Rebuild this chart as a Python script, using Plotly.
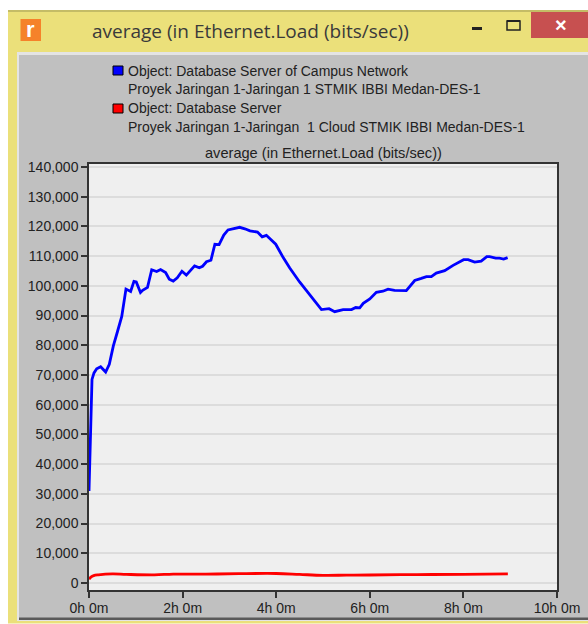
import plotly.graph_objects as go

W, H = 588, 624
L, R, T, B = 89, 557, 164, 590

hours_blue = [0.0, 0.03, 0.064, 0.107, 0.164, 0.249, 0.356, 0.434, 0.52, 0.612, 0.70, 0.79, 0.89, 0.96, 1.01, 1.10, 1.146,
              1.25, 1.34, 1.445, 1.53, 1.637, 1.715, 1.80, 1.886, 1.986, 2.08, 2.256, 2.356, 2.427, 2.51, 2.605,
              2.69, 2.78, 2.88, 2.97, 3.08, 3.22, 3.33, 3.44, 3.60, 3.70, 3.79, 3.99, 4.15, 4.29, 4.50, 4.72,
              4.967, 5.13, 5.25, 5.43, 5.61, 5.70, 5.785, 5.86, 6.0, 6.14, 6.28, 6.39, 6.53, 6.78, 6.96, 7.10,
              7.21, 7.315, 7.42, 7.60, 7.78, 8.005, 8.10, 8.24, 8.38, 8.50, 8.56, 8.69, 8.77, 8.86, 8.945]
load_blue = [31000, 50000, 68500, 70700, 72100, 72800, 71000, 73600, 79800, 84800, 89700, 98900, 98100, 101500, 101300, 97750, 98500,
             99500, 105400, 104800, 105500, 104500, 102250, 101600, 102700, 104900, 103600, 106700, 106100, 106600, 108100, 108600,
             114000, 113900, 117100, 118800, 119300, 119700, 119200, 118500, 118100, 116500, 117000, 114000, 109500, 106000, 101300, 97000,
             92000, 92300, 91300, 92000, 92000, 92700, 92600, 94100, 95600, 97800, 98200, 98900, 98500, 98400, 101800, 102500,
             103100, 103100, 104300, 105100, 106900, 108800, 108800, 108000, 108300, 109800, 109800, 109300, 109300, 109000, 109500]

hours_red = [0.0, 0.04, 0.1, 0.2, 0.5, 0.8, 1.4, 1.8, 2.5, 3.2, 4.0, 4.5, 5.0, 5.5, 6.0, 7.0, 8.0, 8.95]
load_red = [1300, 2000, 2500, 2750, 3050, 2900, 2750, 3000, 3000, 3150, 3200, 2900, 2600, 2650, 2700, 2850, 2900, 3050]

y_ticks = list(range(0, 140001, 10000))
y_labels = [f"{v:,}" for v in y_ticks]
x_ticks = [0, 2, 4, 6, 8, 10]
x_labels = ["0h 0m", "2h 0m", "4h 0m", "6h 0m", "8h 0m", "10h 0m"]
chart_title = "average (in Ethernet.Load (bits/sec))"
legend_lines = ["Object: Database Server of Campus Network",
                "Proyek Jaringan 1-Jaringan 1 STMIK IBBI Medan-DES-1",
                "Object: Database Server",
                "Proyek Jaringan 1-Jaringan  1 Cloud STMIK IBBI Medan-DES-1"]

FONT = "Liberation Sans"
TXT = "#222222"


def px(x):
    return (x - L) / (R - L)


def py(y):
    return (B - y) / (B - T)


def box(x0, y0, x1, y1, fill, line=None, lw=0):
    return dict(type="rect", xref="paper", yref="paper", x0=px(x0), x1=px(x1), y0=py(y1), y1=py(y0),
                fillcolor=fill, line=dict(color=line or fill, width=lw), layer="below")


def label(x, y, text, size=14, color=TXT, anchor="left", family=FONT):
    return dict(xref="paper", yref="paper", x=px(x), y=py(y), text=text, showarrow=False, xanchor=anchor,
                yanchor="middle", xshift=0, font=dict(family=family, size=size, color=color))


shapes = [
    box(8, 10, 588, 623.5, "#ebe07a"),
    box(8, 10, 588, 12, "#c4bc66"),
    box(17, 52, 588, 621, "#e4e4e4"),
    box(19, 55, 588, 619, "#c0c0c0"),
    box(19, 617.5, 588, 620, "#5a5a5a"),
    box(531, 12, 588, 38, "#c75050"),
    box(20.5, 19, 41, 41, "#f5822a"),
    box(507, 21, 520, 30, "rgba(0,0,0,0)", "#222222", 1.5),
    box(507, 20, 520, 22, "#222222"),
    box(472, 27, 482, 30, "#222222"),
    box(113, 66, 123, 75, "#0000ff", "#000000", 1),
    box(113, 104, 123, 113, "#ff0000", "#000000", 1),
    box(L, T, R, B, "#efefef"),
]

annotations = [
    label(90, 31, chart_title, size=19, color="#3a3a3a", family="Open Sans"),
    label(30, 30, "<b>r</b>", size=22, color="#ffffff", anchor="center"),
    label(561, 25, "<b>×</b>", size=20, color="#ffffff", anchor="center"),
    label(126, 71, legend_lines[0]),
    label(126, 89, legend_lines[1]),
    label(126, 108, legend_lines[2]),
    label(126, 127, legend_lines[3]),
    label(323, 153, chart_title, size=14.6, anchor="center"),
]

fig = go.Figure()
fig.add_trace(go.Scatter(x=hours_blue, y=load_blue, mode="lines", name="Database Server of Campus Network",
                         line=dict(color="#0000ff", width=2.8)))
fig.add_trace(go.Scatter(x=hours_red, y=load_red, mode="lines", name="Database Server",
                         line=dict(color="#ff0000", width=2.8, shape="spline")))

axis_common = dict(showline=True, linecolor="#333333", linewidth=1.5, mirror=True, ticks="outside", ticklen=6,
                   tickcolor="#333333", tickwidth=1.5, zeroline=False, tickfont=dict(family=FONT, size=14, color=TXT))
fig.update_xaxes(range=[0, 10], tickvals=x_ticks, ticktext=x_labels, showgrid=False, ticklabelstandoff=-2, **axis_common)
fig.update_yaxes(range=[-2350, 141000], tickvals=y_ticks, ticktext=y_labels, showgrid=True,
                 gridcolor="#dcdcdc", gridwidth=1.5, **axis_common)
fig.update_layout(width=W, height=H, autosize=False, showlegend=False,
                  margin=dict(l=L, r=W - R, t=T, b=H - B, pad=0, autoexpand=False),
                  paper_bgcolor="#ffffff", plot_bgcolor="#efefef",
                  shapes=shapes, annotations=annotations)

fig.write_html("out.html", config={"displayModeBar": False},
               post_script="document.body.style.margin='0';document.body.style.overflow='hidden';")
